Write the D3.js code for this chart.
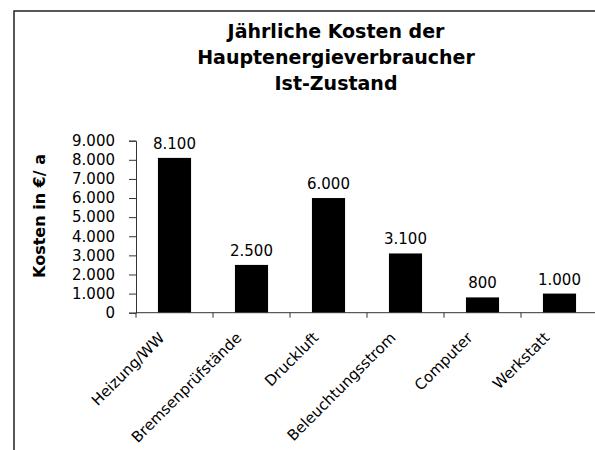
<!DOCTYPE html>
<html>
<head>
<meta charset="utf-8">
<script src="https://cdn.jsdelivr.net/npm/d3@7"></script>
<style>
  body { margin: 0; background: #fff; }
  svg text { font-family: "DejaVu Sans", Verdana, sans-serif; fill: #000; }
</style>
</head>
<body>
<svg id="chart" width="595" height="450"></svg>
<script>
  // data
  const categories = ["Heizung/WW", "Bremsenprüfstände", "Druckluft", "Beleuchtungsstrom", "Computer", "Werkstatt"];
  const costs = [8100, 2500, 6000, 3100, 800, 1000];
  const yTicks = [0, 1000, 2000, 3000, 4000, 5000, 6000, 7000, 8000, 9000];
  const titleLines = ["Jährliche Kosten der", "Hauptenergieverbraucher", "Ist-Zustand"];
  const yTitle = "Kosten in €/ a";

  const svg = d3.select("#chart");
  const fmt = v => d3.format(",")(v).replace(/,/g, ".");

  // chart frame (cut off at the right and bottom edge)
  svg.append("rect")
    .attr("x", 14).attr("y", 11)
    .attr("width", 700).attr("height", 500)
    .attr("fill", "none")
    .attr("stroke", "#222")
    .attr("stroke-width", 1.5);

  const x = d3.scaleBand()
    .domain(categories)
    .range([136, 598])
    .paddingInner(0.57)
    .paddingOuter(0.285);

  const y = d3.scaleLinear()
    .domain([0, 9000])
    .range([312.7, 140.7]);

  // title
  svg.append("g").selectAll("text")
    .data(titleLines)
    .join("text")
    .attr("x", 336)
    .attr("y", (d, i) => 38 + i * 26)
    .attr("text-anchor", "middle")
    .attr("font-size", 19)
    .attr("font-weight", "bold")
    .text(d => d);

  // bars
  svg.append("g").selectAll("rect")
    .data(costs)
    .join("rect")
    .attr("x", (d, i) => x(categories[i]))
    .attr("y", d => y(d))
    .attr("width", x.bandwidth())
    .attr("height", d => y(0) - y(d))
    .attr("fill", "#000");

  // value labels
  svg.append("g").selectAll("text")
    .data(costs)
    .join("text")
    .attr("x", (d, i) => x(categories[i]) + x.bandwidth() / 2)
    .attr("y", d => y(d) - 9)
    .attr("text-anchor", "middle")
    .attr("font-size", 15)
    .text(d => fmt(d));

  // y axis
  const yAxis = svg.append("g")
    .attr("transform", "translate(136,0)")
    .call(d3.axisLeft(y).tickValues(yTicks).tickSize(7).tickPadding(14).tickFormat(fmt));
  yAxis.select(".domain").attr("stroke", "#333");
  yAxis.selectAll(".tick line").attr("stroke", "#333");
  yAxis.selectAll("text")
    .attr("font-size", 15)
    .attr("font-family", "DejaVu Sans, Verdana, sans-serif")
    .attr("fill", "#000");

  // x axis, ticks between the bars
  const step = x.step();
  const xAxis = svg.append("g")
    .attr("transform", `translate(0,${y(0)})`);
  xAxis.append("line")
    .attr("x1", 136).attr("x2", 598)
    .attr("stroke", "#333");
  xAxis.selectAll(".tk")
    .data(d3.range(categories.length + 1))
    .join("line")
    .attr("class", "tk")
    .attr("x1", i => 136 + i * step)
    .attr("x2", i => 136 + i * step)
    .attr("y1", 0).attr("y2", 5)
    .attr("stroke", "#333");

  xAxis.selectAll("text")
    .data(categories)
    .join("text")
    .attr("transform", d => `translate(${x(d) + x.bandwidth() / 2 - 9},26) rotate(-45)`)
    .attr("text-anchor", "end")
    .attr("font-size", 15)
    .text(d => d);

  // y axis title
  svg.append("text")
    .attr("transform", "translate(45,216) rotate(-90)")
    .attr("text-anchor", "middle")
    .attr("font-size", 16)
    .attr("font-weight", "bold")
    .text(yTitle);
</script>
</body>
</html>
